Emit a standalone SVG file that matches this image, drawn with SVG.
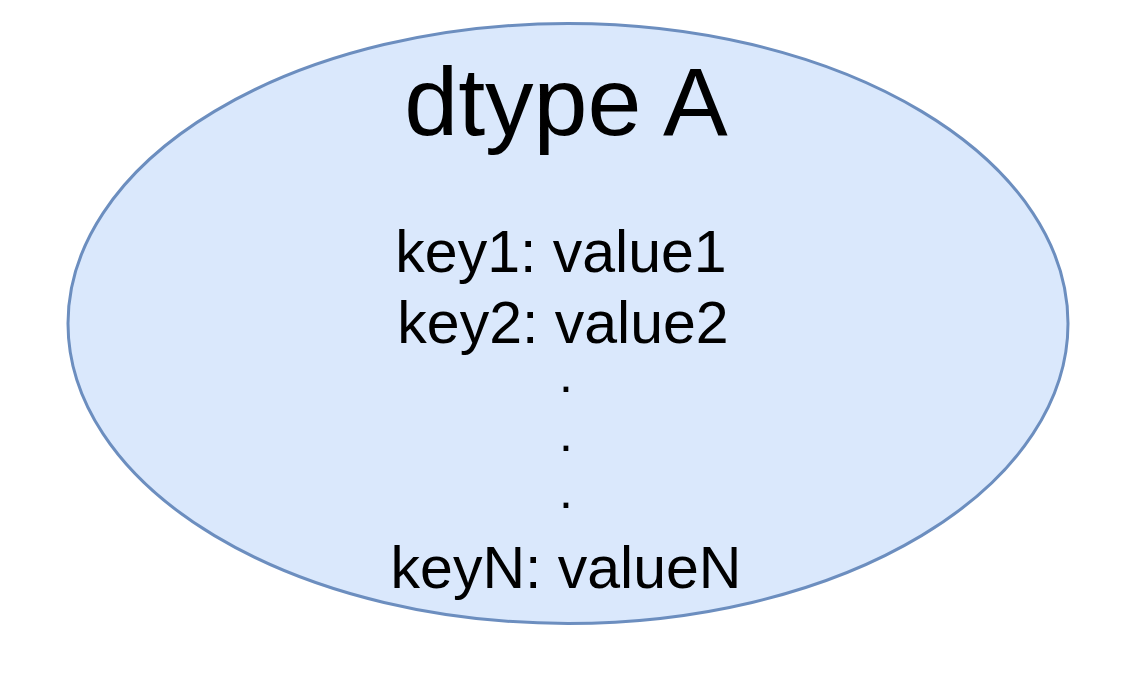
<svg xmlns="http://www.w3.org/2000/svg" width="1132" height="680" viewBox="0 0 1132 680">
<style>
.t{font-family:"Liberation Sans",Arial,sans-serif;fill:#000;text-anchor:middle}
.kv{font-size:59px}
.dot{font-size:50px}
</style>
<rect width="1132" height="680" fill="#fff"/>
<g id="node-dtypeA">
<ellipse cx="568" cy="323.5" rx="500" ry="300" fill="#dae8fc" stroke="#6c8ebf" stroke-width="3"/>
<text class="t" x="566" y="135" font-size="97">dtype A</text>
<text class="t kv" x="561" y="272">key1: value1</text>
<text class="t kv" x="563" y="343">key2: value2</text>
<text class="t dot" x="566" y="392">.</text>
<text class="t dot" x="566" y="451">.</text>
<text class="t dot" x="566" y="508">.</text>
<text class="t kv" x="566" y="588">keyN: valueN</text>
</g>
<g id="connectors"></g>
</svg>
